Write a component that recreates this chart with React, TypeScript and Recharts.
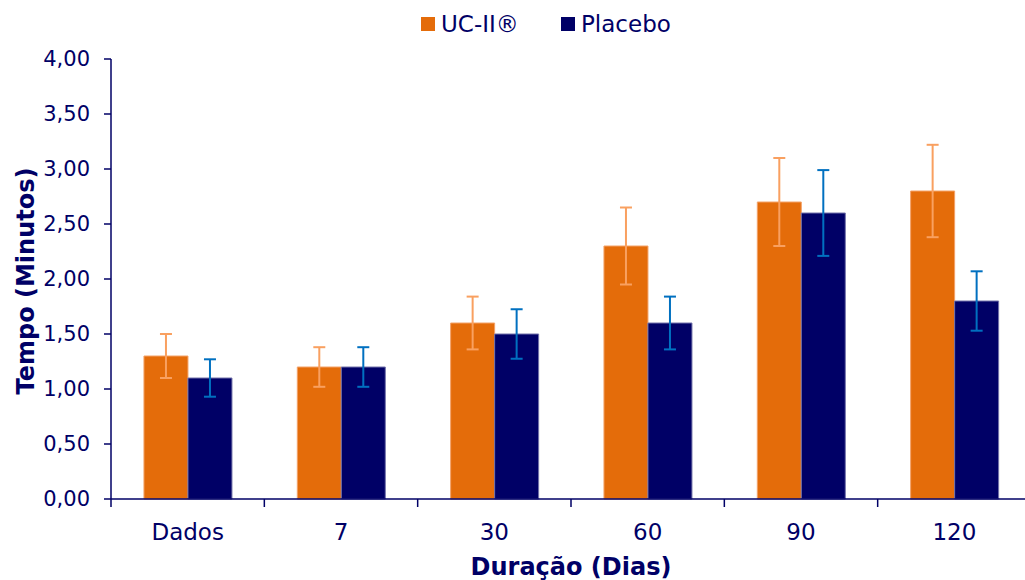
import { BarChart, Bar, XAxis, YAxis, ErrorBar, Legend, Label } from "recharts";

const categories = ["Dados", "7", "30", "60", "90", "120"];
const ucValues = [1.3, 1.2, 1.6, 2.3, 2.7, 2.8];
const ucErrors = [0.2, 0.18, 0.24, 0.35, 0.4, 0.42];
const placeboValues = [1.1, 1.2, 1.5, 1.6, 2.6, 1.8];
const placeboErrors = [0.17, 0.18, 0.225, 0.24, 0.39, 0.27];
const yTicks = [0, 0.5, 1, 1.5, 2, 2.5, 3, 3.5, 4];
const seriesOrder = ["uc", "placebo"];

const NAVY = "#000066";
const ORANGE = "#E46C0A";
const FONT = "'DejaVu Sans', Verdana, sans-serif";

const data = categories.map((name, i) => ({
  name,
  uc: ucValues[i],
  ucErr: ucErrors[i],
  placebo: placeboValues[i],
  placeboErr: placeboErrors[i],
}));

// x labels centred in the band, tick marks at the band edges
const XTick = (props: any) => {
  const { x, y, payload } = props;
  const half = payload.offset ?? 0;
  return (
    <g>
      <line x1={x - half} x2={x - half} y1={y - 8} y2={y} stroke={NAVY} strokeWidth={1.5} />
      <text x={x} y={y} dy={33} textAnchor="middle" fill={NAVY} fontSize={23} fontFamily={FONT}>
        {payload.value}
      </text>
    </g>
  );
};

const LegendContent = (props: any) => {
  const items = [...(props.payload ?? [])].sort(
    (a: any, b: any) => seriesOrder.indexOf(a.dataKey) - seriesOrder.indexOf(b.dataKey)
  );
  return (
    <div style={{ display: "flex", fontFamily: FONT, fontSize: 23, color: NAVY, lineHeight: "32px" }}>
      {items.map((it: any) => (
        <div key={it.value} style={{ display: "flex", alignItems: "center", width: 140 }}>
          <span style={{ width: 14, height: 14, background: it.color, marginRight: 6 }} />
          <span>{it.value}</span>
        </div>
      ))}
    </div>
  );
};

export default function App() {
  return (
    <div style={{ position: "absolute", left: 0, top: 0, width: 1025, height: 580, overflow: "hidden", background: "#fff" }}>
      <BarChart
        width={1040}
        height={580}
        data={data}
        margin={{ top: 59, right: 9, bottom: 0, left: 0 }}
        barCategoryGap="21.5%"
        barGap={0}
      >
        <XAxis
          dataKey="name"
          height={81}
          axisLine={{ stroke: NAVY, strokeWidth: 1.5 }}
          tickLine={false}
          tickSize={8}
          tickMargin={0}
          tick={<XTick />}
          interval={0}
        >
          <Label
            content={({ viewBox }: any) => (
              <text
                x={viewBox.x + viewBox.width / 2}
                y={viewBox.y + 76}
                textAnchor="middle"
                fill={NAVY}
                fontSize={24}
                fontWeight="bold"
                fontFamily={FONT}
              >
                Duração (Dias)
              </text>
            )}
          />
        </XAxis>
        <YAxis
          width={111}
          domain={[0, 4]}
          ticks={yTicks}
          interval={0}
          tickFormatter={(v: number) => v.toFixed(2).replace(".", ",")}
          axisLine={{ stroke: NAVY, strokeWidth: 1.5 }}
          tickLine={{ stroke: NAVY, strokeWidth: 1.5 }}
          tickSize={7}
          tickMargin={14}
          tick={{ fill: NAVY, fontSize: 21, fontFamily: FONT }}
        >
          <Label
            content={({ viewBox }: any) => {
              const cx = viewBox.x + 34;
              const cy = viewBox.y + viewBox.height / 2 + 2;
              return (
                <text
                  x={cx}
                  y={cy}
                  transform={`rotate(-90 ${cx} ${cy})`}
                  textAnchor="middle"
                  fill={NAVY}
                  fontSize={24}
                  fontWeight="bold"
                  fontFamily={FONT}
                >
                  Tempo (Minutos)
                </text>
              );
            }}
          />
        </YAxis>
        <Legend
          verticalAlign="middle"
          align="center"
          content={<LegendContent />}
          wrapperStyle={{ top: 8, left: 421, width: 400, height: 32 }}
        />
        <Bar dataKey="uc" name="UC-II®" fill={ORANGE} stroke="#F3A268" strokeWidth={1} isAnimationActive={false}>
          <ErrorBar dataKey="ucErr" width={6} stroke="#F9A060" strokeWidth={2} isAnimationActive={false} />
        </Bar>
        <Bar dataKey="placebo" name="Placebo" fill={NAVY} stroke="#7272AA" strokeWidth={1} isAnimationActive={false}>
          <ErrorBar dataKey="placeboErr" width={6} stroke="#0070C0" strokeWidth={2} isAnimationActive={false} />
        </Bar>
      </BarChart>
    </div>
  );
}
